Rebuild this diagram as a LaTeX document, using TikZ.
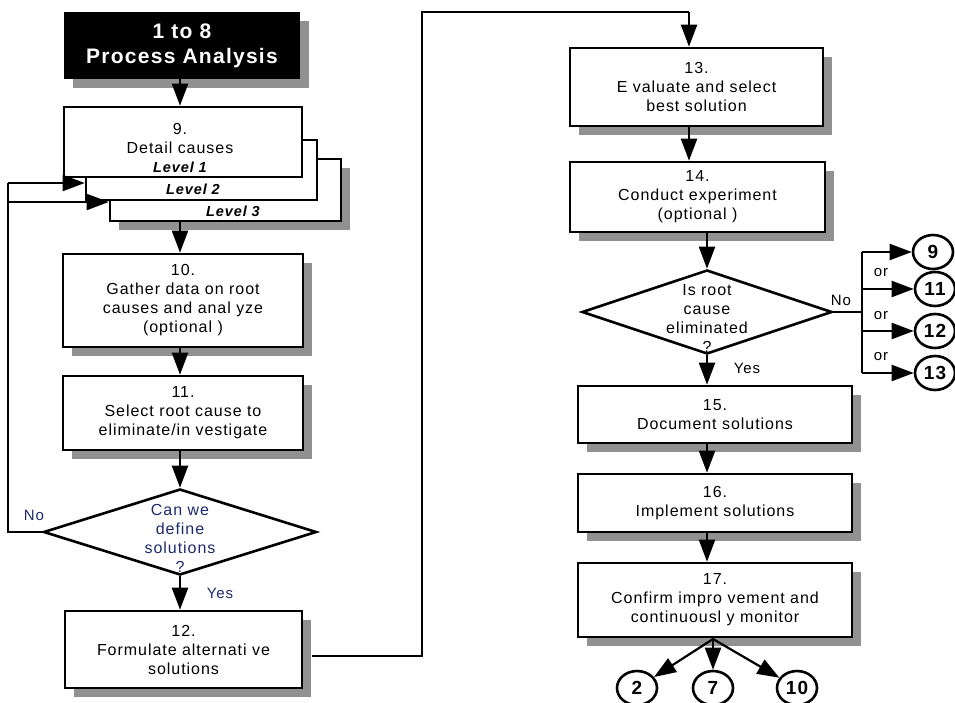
\documentclass[tikz,border=0pt]{standalone}
\usepackage{fontspec}
\setmainfont{Liberation Sans}[LetterSpace=6]
\usetikzlibrary{arrows.meta,shapes.geometric,shadows}
\definecolor{shgray}{RGB}{145,145,145}
\definecolor{navy}{RGB}{30,42,110}
\newcommand\myBody{\fontsize{16}{19}\selectfont}
\newcommand\myTitle{\fontsize{21}{25}\selectfont\bfseries\addfontfeature{LetterSpace=6}}
\newcommand\myLvl{\fontsize{14.5}{18}\selectfont\bfseries\itshape}
\newcommand\myLab{\fontsize{15}{18}\selectfont}
\newcommand\myNum{\fontsize{19}{20}\selectfont\bfseries}
\tikzset{
  boxnode/.style={draw,line width=2.6pt,fill=white,rectangle,inner sep=0pt,align=center,font=\myBody},
  shad/.style={drop shadow={shadow xshift=9pt,shadow yshift=-9pt,fill=shgray,opacity=1}},
  txt/.style={align=center,font=\myBody,inner sep=0pt},
  lvl/.style={font=\myLvl,inner sep=0pt},
  lab/.style={font=\myLab,inner sep=0pt},
  dia/.style={diamond,draw,line width=2.6pt,fill=white,inner sep=0pt},
  circ/.style={ellipse,draw,line width=2.6pt,fill=white,minimum width=40pt,minimum height=34pt,inner sep=0pt,font=\myNum},
  conn/.style={line width=2.2pt},
  arr/.style={line width=2.2pt,-{Triangle[length=22pt,width=16pt]}}
}
\begin{document}
\begin{tikzpicture}[x=1pt,y=-1pt]
\useasboundingbox (0,0) rectangle (955,703);
\coordinate (colA) at (180,0);
\coordinate (colB) at (689,0);
\coordinate (colC) at (707,0);
\coordinate (colD) at (713,0);
\coordinate (bus) at (862,0);
\coordinate (loopx) at (8,0);
% left column
\node[fill=black,shad,minimum width=236pt,minimum height=67pt,text=white,font=\myTitle,align=center,inner sep=0pt] (t) at (182,45.5) {1 to 8\\Process Analysis};
\node[boxnode,shad,minimum width=231pt,minimum height=62pt] (lv3) at (225.5,190) {};
\node[boxnode,minimum width=231pt,minimum height=60pt] (lv2) at (201.5,170) {};
\node[boxnode,minimum width=238pt,minimum height=70pt] (b9) at (183,142) {};
\node[txt] (t9) at (180,148) {9.\\Detail causes\\{\myLvl Level 1}};
\node[lvl] (t2) at (193,189) {Level 2};
\node[lvl] (t3) at (233,211) {Level 3};
\node[boxnode,shad,minimum width=240pt,minimum height=93pt] (b10) at (183,300.5) {10.\\Gather data on root\\causes and anal yze\\(optional )};
\node[boxnode,shad,minimum width=240pt,minimum height=74pt] (b11) at (183,413) {11.\\Select root cause to\\eliminate/in vestigate};
\node[dia,minimum width=273pt,minimum height=86pt] (d1) at (180,532) {};
\node[txt,text=navy] (td1) at (180,538) {Can we\\define\\solutions\\?};
\node[boxnode,shad,minimum width=237pt,minimum height=77pt] (b12) at (183.5,649.5) {12.\\Formulate alternati ve\\solutions};
\node[lab,text=navy] (no1) at (34,515) {No};
\node[lab,text=navy] (yes1) at (220,593) {Yes};
% right column
\node[boxnode,shad,minimum width=253pt,minimum height=78pt] (b13) at (696.5,87) {13.\\E valuate and select\\best solution};
\node[boxnode,shad,minimum width=255pt,minimum height=70pt] (b14) at (697.5,197) {14.\\Conduct experiment\\(optional )};
\node[dia,minimum width=250pt,minimum height=84pt] (d2) at (707,312) {};
\node[txt] (td2) at (707,318) {Is root\\cause\\eliminated\\?};
\node[lab] (no2) at (841,300) {No};
\node[lab] (yes2) at (747,368) {Yes};
\node[boxnode,shad,minimum width=274pt,minimum height=57pt] (b15) at (715,414.5) {15.\\Document solutions};
\node[boxnode,shad,minimum width=274pt,minimum height=58pt] (b16) at (715,503) {16.\\Implement solutions};
\node[boxnode,shad,minimum width=274pt,minimum height=74pt] (b17) at (715,600) {17.\\Confirm impro vement and\\continuousl y monitor};
% circles
\node[circ] (c9) at (933,252) {9};
\node[circ] (c11) at (935,289) {11};
\node[circ] (c12) at (935,331) {12};
\node[circ] (c13) at (935,373) {13};
\node[lab] (or1) at (881,273) {or};
\node[lab] (or2) at (881,316) {or};
\node[lab] (or3) at (881,357) {or};
\node[circ] (c2) at (637,688) {2};
\node[circ] (c7) at (713,688) {7};
\node[circ] (c10) at (797,688) {10};
% connectors left
\draw[arr] (t.south -| colA) -- (b9.north -| colA);
\draw[arr] (lv3.south -| colA) -- (b10.north -| colA);
\draw[arr] (b10.south -| colA) -- (b11.north -| colA);
\draw[arr] (b11.south -| colA) -- (d1.north);
\draw[arr] (d1.south) -- (b12.north -| colA);
\draw[conn] (d1.west) -| (8,183);
\draw[arr] (8,183) -- (lv2.west |- 0,183);
\draw[arr] (8,202) -- (lv3.west |- 0,202);
\draw[conn] ([xshift=9pt]b12.east |- 0,656) -- (422,656) -- (422,12) -- (689,12);
\draw[arr] (689,12) -- (b13.north -| colB);
% connectors right
\draw[arr] (b13.south -| colB) -- (b14.north -| colB);
\draw[arr] (b14.south -| colC) -- (d2.north);
\draw[arr] (d2.south) -- (b15.north -| colC);
\draw[arr] (b15.south -| colC) -- (b16.north -| colC);
\draw[arr] (b16.south -| colC) -- (b17.north -| colC);
\draw[conn] (d2.east) -- (d2.east -| bus);
\draw[conn] (c9.west -| bus) -- (c13.west -| bus);
\draw[arr] (c9.west -| bus) -- (c9.west);
\draw[arr] (c11.west -| bus) -- (c11.west);
\draw[arr] (c12.west -| bus) -- (c12.west);
\draw[arr] (c13.west -| bus) -- (c13.west);
\coordinate (fan) at (713,639);
\draw[arr] (fan) -- (c2);
\draw[arr] (fan) -- (c7);
\draw[arr] (fan) -- (c10);
\end{tikzpicture}
\end{document}
